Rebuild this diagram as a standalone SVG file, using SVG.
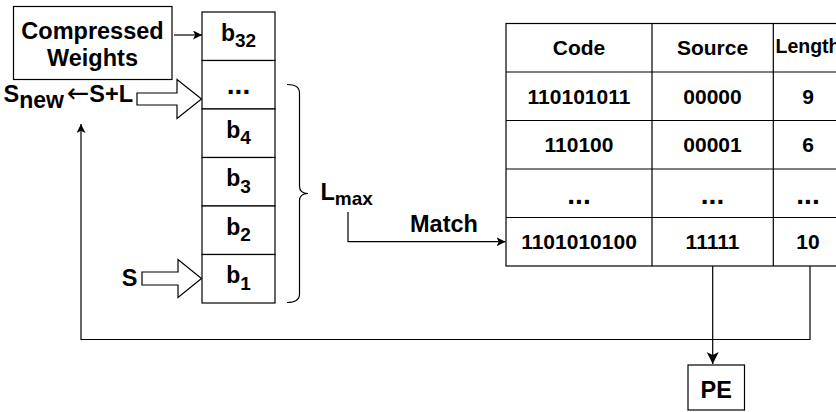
<svg xmlns="http://www.w3.org/2000/svg" width="836" height="412" viewBox="0 0 836 412">
<defs>
<marker id="arr" markerUnits="userSpaceOnUse" markerWidth="9" markerHeight="9" viewBox="0 0 10 10" refX="10" refY="5" orient="auto">
<path d="M0,0 L10,5 L0,10 L2.5,5 z" fill="#000"/>
</marker>
<marker id="arrBig" markerUnits="userSpaceOnUse" markerWidth="12" markerHeight="12" viewBox="0 0 10 10" refX="10" refY="5" orient="auto">
<path d="M0,0 L10,5 L0,10 L2.5,5 z" fill="#000"/>
</marker>
<style>
text{font-family:"Liberation Sans",Arial,sans-serif;font-weight:bold;fill:#000}
.box{fill:#fff;stroke:#000;stroke-width:1.2}
.ln{fill:none;stroke:#000;stroke-width:1.2}
.t{font-size:23.5px}
.tb{font-size:21px;text-anchor:middle}
.b{font-size:23px;text-anchor:middle}
.sub{font-size:19px}
.dots{font-size:28px;text-anchor:middle}
.hol{fill:#fff;stroke:#000;stroke-width:1.2;stroke-linejoin:miter}
</style>
</defs>

<g id="compressed-weights">
<rect class="box" x="13.5" y="6.5" width="158.5" height="73"/>
<text class="t" x="92.5" y="38.5" text-anchor="middle">Compressed</text>
<text class="t" x="92.5" y="65.5" text-anchor="middle">Weights</text>
</g>

<g id="stack">
<g id="cell-b32"><rect class="box" x="202" y="12" width="73" height="48.5"/><text class="b" x="238.5" y="40.5">b<tspan class="sub" dy="6.5">32</tspan></text></g>
<g id="cell-dots"><rect class="box" x="202" y="60.5" width="73" height="48.5"/><text class="dots" x="238.5" y="93.5">...</text></g>
<g id="cell-b4"><rect class="box" x="202" y="109" width="73" height="48.5"/><text class="b" x="238.5" y="137.5">b<tspan class="sub" dy="6.5">4</tspan></text></g>
<g id="cell-b3"><rect class="box" x="202" y="157.5" width="73" height="48.5"/><text class="b" x="238.5" y="186">b<tspan class="sub" dy="6.5">3</tspan></text></g>
<g id="cell-b2"><rect class="box" x="202" y="206" width="73" height="48.5"/><text class="b" x="238.5" y="234.5">b<tspan class="sub" dy="6.5">2</tspan></text></g>
<g id="cell-b1"><rect class="box" x="202" y="254.5" width="73" height="48.5"/><text class="b" x="238.5" y="283">b<tspan class="sub" dy="6.5">1</tspan></text></g>
</g>

<g id="brace">
<path class="ln" d="M287,84.5 Q299.5,84.5 299.5,93 L299.5,186 Q299.5,193.5 308,193.5 Q299.5,193.5 299.5,201 L299.5,294 Q299.5,302.5 287,302.5"/>
</g>

<g id="lmax-label">
<text class="t" x="320.5" y="199.5">L<tspan class="sub" dy="5">max</tspan></text>
</g>

<g id="match-label">
<text class="t" x="410" y="231.5">Match</text>
</g>

<g id="snew-label">
<text class="t" x="3.5" y="101.5">S<tspan style="font-size:23px" dy="6.5">new</tspan></text>
<text x="78" y="102" text-anchor="middle" style="font-family:'DejaVu Sans',sans-serif;font-weight:normal;font-size:27px">←</text>
<text class="t" x="133" y="101.5" text-anchor="end">S+L</text>
</g>

<g id="s-label">
<text class="t" x="137.5" y="285.5" text-anchor="end">S</text>
</g>

<g id="table">
<rect class="box" x="506" y="23.5" width="337" height="242.5"/>
<path class="ln" d="M506,72H843M506,120.5H843M506,169H843M506,217.5H843M652,23.5V266M773.3,23.5V266"/>
<text class="tb" x="579" y="55">Code</text>
<text class="tb" x="712.5" y="55">Source</text>
<text class="tb" x="808" y="53" style="font-size:19.5px">Length</text>
<text class="tb" x="579" y="103.5">110101011</text>
<text class="tb" x="712.5" y="103.5">00000</text>
<text class="tb" x="808" y="103.5">9</text>
<text class="tb" x="579" y="152">110100</text>
<text class="tb" x="712.5" y="152">00001</text>
<text class="tb" x="808" y="152">6</text>
<text class="dots" x="579" y="203.5">...</text>
<text class="dots" x="712.5" y="203.5">...</text>
<text class="dots" x="808" y="203.5">...</text>
<text class="tb" x="579" y="249">1101010100</text>
<text class="tb" x="712.5" y="249">11111</text>
<text class="tb" x="808" y="249">10</text>
</g>

<g id="pe">
<rect class="box" x="688" y="365" width="56.5" height="45"/>
<text class="t" x="716.2" y="397.5" text-anchor="middle">PE</text>
</g>

<g id="connectors">
<line class="ln" x1="174" y1="35" x2="202" y2="35" marker-end="url(#arr)"/>
<polygon class="hol" points="137,93 177,93 177,79.5 201.5,99 177,118.5 177,105 137,105"/>
<polygon class="hol" points="142,272 178,272 178,259.5 201.5,278.5 178,297.5 178,285 142,285"/>
<polyline class="ln" points="348,212 348,241.7 505.5,241.7" marker-end="url(#arr)"/>
<line class="ln" x1="712.7" y1="266" x2="712.7" y2="364" marker-end="url(#arrBig)"/>
<polyline class="ln" points="810,266 810,339.5 81,339.5 81,124" marker-end="url(#arr)"/>
</g>
</svg>
